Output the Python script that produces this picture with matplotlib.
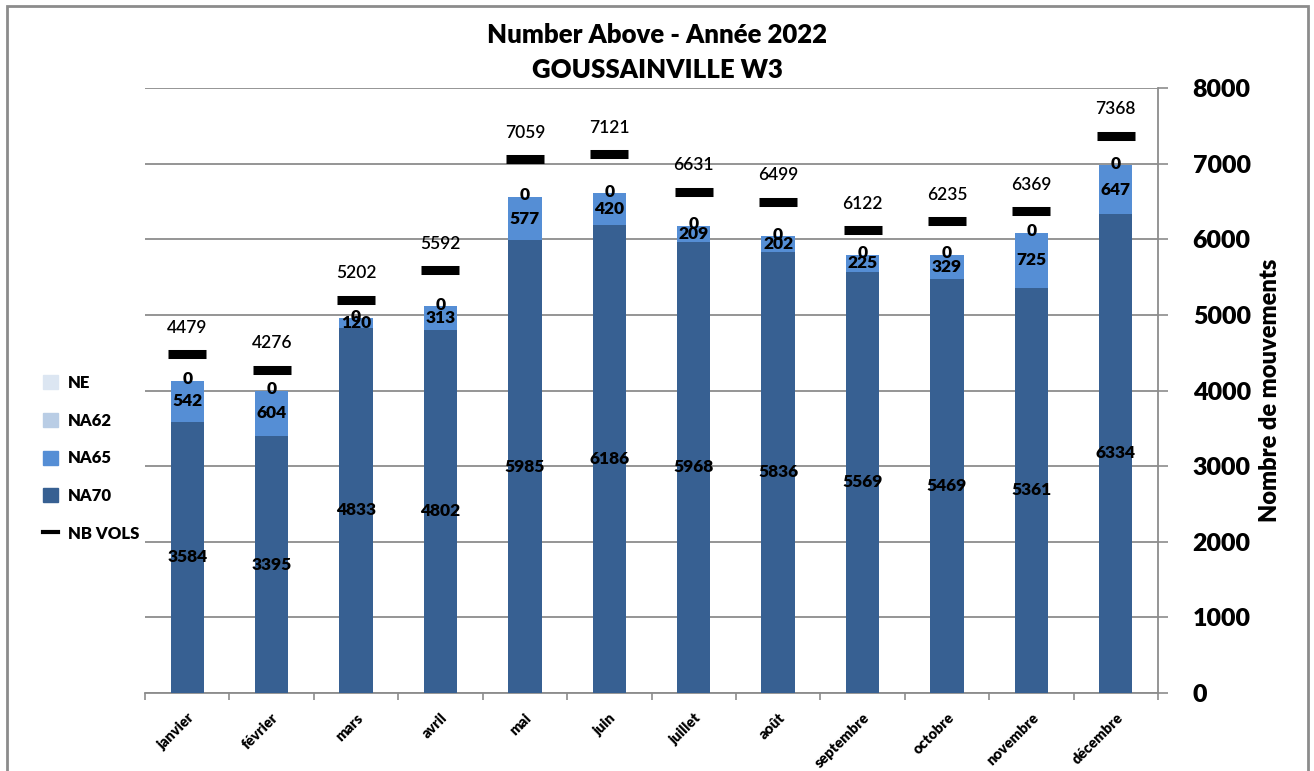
import matplotlib
matplotlib.use("Agg")
import matplotlib.pyplot as plt
import numpy as np
from matplotlib.lines import Line2D
from matplotlib.patches import Patch, Rectangle

plt.rcParams['font.family'] = ['Lato', 'DejaVu Sans']

mois = ["janvier", "février", "mars", "avril", "mai", "juin", "juillet",
        "août", "septembre", "octobre", "novembre", "décembre"]
na70 = [3584, 3395, 4833, 4802, 5985, 6186, 5968, 5836, 5569, 5469, 5361, 6334]
na65 = [542, 604, 120, 313, 577, 420, 209, 202, 225, 329, 725, 647]
na62 = [0, 0, 0, 0, 0, 0, 0, 0, 0, 0, 0, 0]
ne = [0, 0, 0, 0, 0, 0, 0, 0, 0, 0, 0, 0]
nb_vols = [4479, 4276, 5202, 5592, 7059, 7121, 6631, 6499, 6122, 6235, 6369, 7368]

c_ne = "#dce6f2"
c_na62 = "#b9cde5"
c_na65 = "#558ed5"
c_na70 = "#376092"
grid_c = "#8c8c8c"

fig = plt.figure(figsize=(13.14, 7.71), dpi=100)
ax = fig.add_axes([145/1314, 1 - 693/771, (1158-145)/1314, (693-88)/771])

x = np.arange(len(mois))
w = 0.395
na70 = np.array(na70)
na65 = np.array(na65)
na62 = np.array(na62)
ne = np.array(ne)

ax.bar(x, na70, w, color=c_na70, zorder=3)
ax.bar(x, na65, w, bottom=na70, color=c_na65, zorder=3)
ax.bar(x, na62, w, bottom=na70 + na65, color=c_na62, zorder=3)
ax.bar(x, ne, w, bottom=na70 + na65 + na62, color=c_ne, zorder=3)
ax.plot(x, nb_vols, ls="none", marker="_", ms=27, mew=6.5, color="black", zorder=4)

lab_kw = dict(ha="center", va="center", fontsize=12.5, fontweight="heavy", color="black", zorder=5)
for i in x:
    ax.text(i, na70[i] / 2, str(na70[i]), **lab_kw)
    ax.text(i, na70[i] + na65[i] / 2, str(na65[i]), **lab_kw)
    ax.text(i, na70[i] + na65[i] + na62[i] / 2 + 20, str(na62[i]), **lab_kw)
    ax.annotate(str(nb_vols[i]), (i, nb_vols[i]), xytext=(0, 19), textcoords="offset points",
                ha="center", va="center", fontsize=12.5, fontweight="semibold",
                color="black", zorder=5)

ax.set_xlim(-0.5, len(mois) - 0.5)
ax.set_ylim(0, 8000)
ax.set_yticks(range(0, 8001, 1000))
ax.yaxis.tick_right()
ax.yaxis.set_label_position("right")
ax.grid(axis="y", color=grid_c, lw=1.3, zorder=0)
ax.tick_params(axis="y", length=7, color=grid_c, width=1.2, pad=18, labelsize=18)
for t in ax.get_yticklabels():
    t.set_fontweight("heavy")
    t.set_horizontalalignment("left")
ax.set_ylabel("Nombre de mouvements", fontsize=17, fontweight="heavy", labelpad=6)

ax.set_xticks(x)
ax.set_xticklabels(mois, rotation=45, ha="right", rotation_mode="anchor",
                   fontsize=10.5, fontweight="heavy")
ax.set_xticks(np.arange(-0.5, len(mois)), minor=True)
ax.tick_params(axis="x", which="major", length=0, pad=13)
ax.tick_params(axis="x", which="minor", length=5, color=grid_c, width=1.2)

for s in ["top", "left"]:
    ax.spines[s].set_visible(False)
ax.spines["right"].set_color(grid_c)
ax.spines["right"].set_linewidth(1.3)
ax.spines["bottom"].set_color(grid_c)
ax.spines["bottom"].set_linewidth(1.3)

fig.text(0.5, 1 - 35/771, "Number Above - Année 2022", ha="center", va="center",
         fontsize=18.5, fontweight="heavy")
fig.text(0.5, 1 - 70/771, "GOUSSAINVILLE W3", ha="center", va="center",
         fontsize=18.5, fontweight="heavy")

handles = [Patch(color=c_ne, label="NE"), Patch(color=c_na62, label="NA62"),
           Patch(color=c_na65, label="NA65"), Patch(color=c_na70, label="NA70"),
           Line2D([], [], color="black", lw=3, label="NB VOLS")]
fig.legend(handles=handles, loc="upper left", bbox_to_anchor=(28/1314, 1 - 360/771),
           frameon=False, prop={"weight": "heavy", "size": 12}, labelspacing=1.3,
           handlelength=0.9, handleheight=0.9, handletextpad=0.6)

fig.patches.append(Rectangle((7/1314, -0.05), (1308-7)/1314, 1.05 - 6/771,
                             transform=fig.transFigure, fill=False, ec="#8c8c8c", lw=2))

fig.savefig("out.png", dpi=100)
